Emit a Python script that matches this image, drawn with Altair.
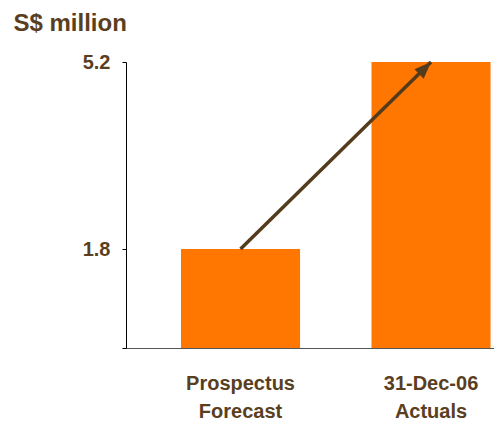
import altair as alt
import pandas as pd

categories = ["Prospectus|Forecast", "31-Dec-06|Actuals"]
values = [1.8, 5.2]
tick_values = [0, 1.8, 5.2]
y_title = "S$ million"

ORANGE = "#FF7700"
BROWN = "#5A3F1F"
ARROW = "#533B1C"
FONT = "Liberation Sans"

df = pd.DataFrame({"cat": categories, "value": values})

x_enc = alt.X(
    "cat:N",
    sort=categories,
    title=None,
    scale=alt.Scale(paddingInner=0.375, paddingOuter=0.1534, align=0.941),
    axis=alt.Axis(
        labelExpr="split(datum.label, '|')",
        labelAngle=0,
        labelFont=FONT,
        labelFontSize=20,
        labelFontWeight="bold",
        labelColor=BROWN,
        labelPadding=25,
        labelLineHeight=28,
        labelBaseline="top",
        ticks=False,
        domainColor="#555555",
        domainWidth=1.2,
    ),
)

y_enc = alt.Y(
    "value:Q",
    scale=alt.Scale(domain=[0, 5.2], nice=False, zero=True),
    axis=alt.Axis(
        values=tick_values,
        labelExpr="datum.value == 0 ? '' : format(datum.value, '.1f')",
        grid=False,
        tickSize=4,
        tickColor="black",
        domainColor="black",
        labelPadding=12,
        labelFont=FONT,
        labelFontSize=20,
        labelFontWeight="bold",
        labelColor=BROWN,
        title=y_title,
        titleAngle=0,
        titleX=-113,
        titleY=-32,
        titleAlign="left",
        titleBaseline="alphabetic",
        titleFont=FONT,
        titleFontSize=24,
        titleFontWeight="bold",
        titleColor=BROWN,
    ),
)

bars = alt.Chart(df).mark_bar(color=ORANGE).encode(x=x_enc, y=y_enc)

arrow_line = alt.Chart(df).mark_line(color=ARROW, strokeWidth=3.5).encode(x=x_enc, y=y_enc)

arrow_head = (
    alt.Chart(df)
    .transform_filter(alt.datum.value == max(values))
    .mark_point(
        shape="M0,0L0.7,1.8L-0.7,1.8Z",
        size=355,
        filled=True,
        color=ARROW,
        opacity=1,
        strokeWidth=0,
        angle=45,
    )
    .encode(x=x_enc, y=y_enc)
)

chart = (
    alt.layer(bars, arrow_line, arrow_head)
    .properties(
        width=368,
        height=286,
        autosize=alt.AutoSizeParams(type="none"),
        padding={"left": 118, "top": 54, "right": 0, "bottom": 72},
    )
    .configure_view(strokeWidth=0)
)

chart.save("out.html", embed_options={"renderer": "svg", "actions": False})
